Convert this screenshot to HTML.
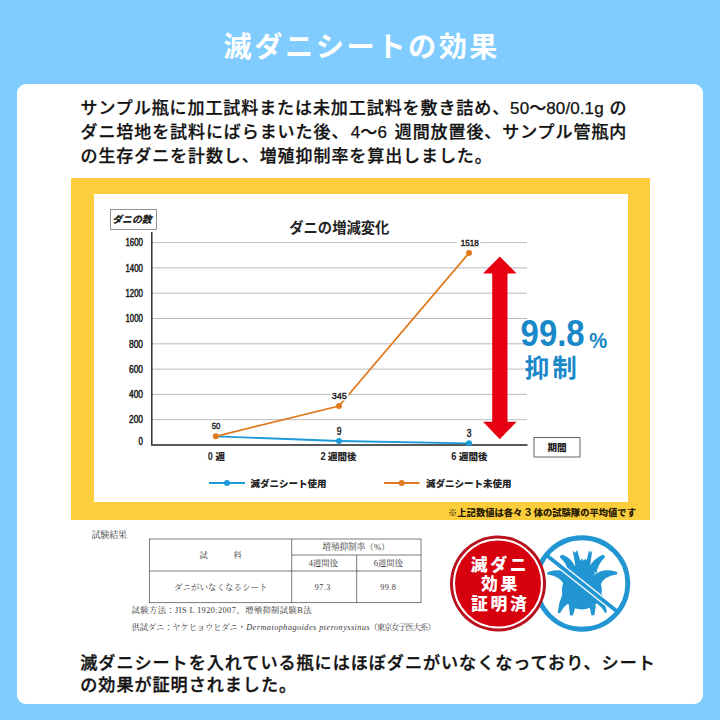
<!DOCTYPE html>
<html lang="ja">
<head>
<meta charset="utf-8">
<title>滅ダニシートの効果</title>
<style>
html,body{margin:0;padding:0;}
body{width:720px;height:720px;background:#80ccff;position:relative;overflow:hidden;
  font-family:"Liberation Sans","Noto Sans CJK JP",sans-serif;color:#111;}
.panel{position:absolute;left:17px;top:83.5px;width:686.2px;height:620px;background:#fff;border-radius:9px;}
.title{position:absolute;left:1.8px;top:25px;width:720px;text-align:center;color:#fff;
  font-size:28.2px;font-weight:700;line-height:44px;letter-spacing:2.55px;white-space:nowrap;}
.lead{position:absolute;left:80.5px;top:97.0px;font-size:17px;font-weight:500;line-height:24.2px;
  white-space:nowrap;color:#111;letter-spacing:0.92px;-webkit-text-stroke:0.25px #111;}
.foot{position:absolute;left:80.3px;top:652.8px;font-size:17.1px;font-weight:500;-webkit-text-stroke:0.35px #111;line-height:22.6px;
  white-space:nowrap;color:#111;letter-spacing:0.97px;}
.ybox{position:absolute;left:71px;top:177.8px;width:579px;height:342.2px;background:#fcce3c;}
.ywhite{position:absolute;left:94px;top:194.4px;width:534.3px;height:307.6px;background:#fff;}
.n{letter-spacing:0.1px;}
.s1{letter-spacing:1px;}
.s2{letter-spacing:3px;}
svg{position:absolute;left:0;top:0;}
</style>
</head>
<body>
<div class="panel"></div>
<div class="title">滅ダニシートの効果</div>
<div class="lead">サンプル瓶に加工試料または未加工試料を敷き詰め、<span class="n">50〜80/0.1g</span><span class="s1"> </span>の<br>ダニ培地を試料にばらまいた後、<span class="n" style="margin-left:1.5px">4〜6</span><span class="s2"> </span>週間放置後、サンプル管瓶内<br>の生存ダニを計数し、増殖抑制率を算出しました。</div>
<div class="ybox"></div>
<div class="ywhite"></div>
<svg width="720" height="720" viewBox="0 0 720 720" font-family="'Liberation Sans','Noto Sans CJK JP',sans-serif">
<!-- gridlines -->
<g stroke="#ababab" stroke-width="0.8" fill="none">
<line x1="152" y1="242.6" x2="527" y2="242.6"/>
<line x1="152" y1="267.9" x2="527" y2="267.9"/>
<line x1="152" y1="293.2" x2="527" y2="293.2"/>
<line x1="152" y1="318.5" x2="527" y2="318.5"/>
<line x1="152" y1="343.8" x2="527" y2="343.8"/>
<line x1="152" y1="369.1" x2="527" y2="369.1"/>
<line x1="152" y1="394.4" x2="527" y2="394.4"/>
<line x1="152" y1="419.7" x2="527" y2="419.7"/>
</g>
<!-- axes -->
<path d="M151.8 232 V445 H527.5" stroke="#222" stroke-width="1.4" fill="none"/>
<!-- y label box -->
<rect x="110.5" y="209.5" width="46" height="20" fill="#fff" stroke="#777" stroke-width="0.8"/>
<text x="132" y="223.2" font-size="9.9" font-weight="900" font-style="italic" text-anchor="middle" fill="#222">ダニの数</text>
<!-- y ticks -->
<g font-size="10.4" font-weight="400" fill="#222" text-anchor="end" stroke="#222" stroke-width="0.5">
<text x="143" y="246.3" textLength="17.5" lengthAdjust="spacingAndGlyphs">1600</text>
<text x="143" y="271.6" textLength="17.5" lengthAdjust="spacingAndGlyphs">1400</text>
<text x="143" y="296.9" textLength="17.5" lengthAdjust="spacingAndGlyphs">1200</text>
<text x="143" y="322.2" textLength="17.5" lengthAdjust="spacingAndGlyphs">1000</text>
<text x="143" y="347.5" textLength="14" lengthAdjust="spacingAndGlyphs">800</text>
<text x="143" y="372.8" textLength="14" lengthAdjust="spacingAndGlyphs">600</text>
<text x="143" y="398.1" textLength="14" lengthAdjust="spacingAndGlyphs">400</text>
<text x="143" y="423.4" textLength="14" lengthAdjust="spacingAndGlyphs">200</text>
<text x="143" y="445.3" textLength="4.4" lengthAdjust="spacingAndGlyphs">0</text>
</g>
<!-- chart title -->
<text x="339.3" y="232.6" font-size="14.3" font-weight="700" text-anchor="middle" fill="#222">ダニの増減変化</text>
<!-- series -->
<polyline points="215.8,436.3 339,441 469,443.3" fill="none" stroke="#1e9ad6" stroke-width="1.8"/>
<polyline points="215.8,436.3 339,406 469,253" fill="none" stroke="#e07a1f" stroke-width="1.8"/>
<g fill="#1e9ad6"><circle cx="339" cy="441" r="3"/><circle cx="469" cy="443.3" r="3"/></g>
<g fill="#e07a1f"><circle cx="215.8" cy="436.3" r="3"/><circle cx="339" cy="406" r="3"/><circle cx="469" cy="253" r="3"/></g>
<!-- data labels -->
<rect x="457" y="239.5" width="23.5" height="8" fill="#fff"/>
<rect x="330.5" y="391.5" width="18" height="9" fill="#fff"/>
<g font-size="9.9" fill="#222" text-anchor="middle" stroke="#222" stroke-width="0.45">
<text x="216" y="428.8" textLength="8.6" lengthAdjust="spacingAndGlyphs">50</text>
<text x="339.2" y="399" textLength="15" lengthAdjust="spacingAndGlyphs">345</text>
<text x="469.8" y="246.1" font-size="9.4" textLength="18" lengthAdjust="spacingAndGlyphs">1518</text>
<text x="339" y="434.6" font-size="10.4" textLength="4.7" lengthAdjust="spacingAndGlyphs">9</text>
<text x="469" y="437.4" font-size="10.4" textLength="4.7" lengthAdjust="spacingAndGlyphs">3</text>
</g>
<!-- x labels -->
<g font-size="9.5" font-weight="900" fill="#222">
<text x="207.8" y="459.9"><tspan font-size="10.6" font-weight="700" textLength="5" lengthAdjust="spacingAndGlyphs">0</tspan></text>
<text x="215.5" y="459.6">週</text>
<text x="320.4" y="459.9"><tspan font-size="10.6" font-weight="700" textLength="5.2" lengthAdjust="spacingAndGlyphs">2</tspan></text>
<text x="328" y="459.6">週間後</text>
<text x="451.2" y="459.9"><tspan font-size="10.6" font-weight="700" textLength="5.2" lengthAdjust="spacingAndGlyphs">6</tspan></text>
<text x="459" y="459.6">週間後</text>
</g>
<!-- period box -->
<rect x="534" y="437.5" width="46" height="19.5" fill="#fff" stroke="#555" stroke-width="0.9"/>
<text x="557" y="450.8" font-size="9.6" font-weight="900" text-anchor="middle" fill="#222">期間</text>
<!-- legend -->
<line x1="209" y1="483" x2="245" y2="483" stroke="#1e9ad6" stroke-width="1.8"/>
<circle cx="227" cy="483" r="3" fill="#1e9ad6"/>
<text x="250.5" y="486.7" font-size="9.5" font-weight="900" fill="#222">滅ダニシート使用</text>
<line x1="384" y1="483" x2="419.5" y2="483" stroke="#e07a1f" stroke-width="1.8"/>
<circle cx="401.7" cy="483" r="3" fill="#e07a1f"/>
<text x="426" y="486.7" font-size="9.5" font-weight="900" fill="#222">滅ダニシート未使用</text>
<!-- arrow -->
<polygon points="499.8,256.5 516.6,273.5 507.5,273.5 507.5,421.7 516.6,421.7 499.8,439.3 483,421.7 492.2,421.7 492.2,273.5 483,273.5" fill="#e60012"/>
<!-- 99.8% -->
<text x="520.6" y="345.6" font-size="37.2" font-weight="700" fill="#1a87c9" textLength="64" lengthAdjust="spacingAndGlyphs">99.8</text>
<text x="589.3" y="347.9" font-size="22.5" font-weight="700" fill="#1a87c9" textLength="18" lengthAdjust="spacingAndGlyphs">%</text>
<text x="524.8" y="377" font-size="24.5" font-weight="700" fill="#1a87c9" letter-spacing="3">抑制</text>
<!-- note -->
<text x="448" y="515.9" font-size="9.3" font-weight="900" fill="#2a1c00">※上記数値は各々 <tspan font-size="11">3</tspan> 体の試験隊の平均値です</text>
<!-- table -->
<g font-family="'Liberation Serif','Noto Serif CJK JP','Noto Serif CJK SC',serif" fill="#3a3a3a" font-size="8.8">
<text x="91.5" y="537.5" font-size="8.9">試験結果</text>
<g stroke="#444" stroke-width="0.7" fill="none">
<rect x="149.3" y="539" width="271.7" height="63.7"/>
<line x1="149.3" y1="571" x2="421" y2="571"/>
<line x1="291.7" y1="539" x2="291.7" y2="602.7"/>
<line x1="291.7" y1="555" x2="421" y2="555"/>
<line x1="356.7" y1="555" x2="356.7" y2="602.7"/>
</g>
<text x="203.7" y="557.8" text-anchor="middle" font-size="8.2">試</text>
<text x="237.7" y="557.8" text-anchor="middle" font-size="8.2">料</text>
<text x="356" y="549.8" text-anchor="middle" font-size="8.6">増殖抑制率（%）</text>
<text x="323.3" y="565.8" text-anchor="middle" font-size="8.4">4週間後</text>
<text x="388.3" y="565.8" text-anchor="middle" font-size="8.4">6週間後</text>
<text x="220.8" y="589.8" text-anchor="middle" font-size="8.5">ダニがいなくなるシート</text>
<text x="322.7" y="589.6" text-anchor="middle" font-size="8.2" letter-spacing="0.4">97.3</text>
<text x="388.3" y="589.6" text-anchor="middle" font-size="8.2" letter-spacing="0.4">99.8</text>
<text x="131.5" y="613" font-size="8.3" textLength="180" lengthAdjust="spacing">試験方法：JIS L 1920:2007、増殖抑制試験B法</text>
<text x="131.5" y="629.7" font-size="8.3" textLength="114.5" lengthAdjust="spacing">供試ダニ：ヤケヒョウヒダニ・</text>
<text x="246.2" y="629.7" font-size="8.3" font-style="italic" textLength="123.5" lengthAdjust="spacing">Dermatophagoides pteronyssinus</text>
<text x="369.5" y="629.7" font-size="8.3" textLength="66" lengthAdjust="spacing">（東京女子医大系）</text>
</g>
<!-- mite icon -->
<g>
<circle cx="582" cy="583.5" r="47" fill="#fff"/>
<g transform="translate(540,540) scale(0.125)" fill="#2196d3">
<ellipse cx="335" cy="400" rx="160" ry="156"/>
<path d="M262,86 L280,102 L298,82 L322,165 L335,148 L350,165 L362,150 L373,162 L392,84 L405,102 L418,82 L402,200 L445,275 L225,275 L282,200 Z"/>
<path d="M224,268 Q222,192 158,138 Q160,116 188,120 Q260,150 282,222 Z"/>
<path d="M190,355 Q160,290 62,276 Q48,264 68,254 Q185,222 240,280 Z"/>
<path d="M180,430 Q150,500 142,578 Q148,592 162,582 Q192,525 240,500 Z"/>
<path d="M230,515 L240,604 L264,602 L282,540 Z"/>
<path d="M398,540 L412,604 L435,602 L448,515 Z"/>
<path d="M438,500 Q490,525 518,580 Q532,590 534,572 Q522,500 494,430 Z"/>
<path d="M392,222 Q425,150 498,120 Q524,118 518,140 Q462,192 452,268 Z"/>
<path d="M435,280 Q500,222 610,254 Q630,266 612,276 Q512,290 486,355 Z"/>
</g>
<line x1="546.2" y1="555" x2="617.8" y2="612" stroke="#fff" stroke-width="6.4"/>
<line x1="546.2" y1="555" x2="617.8" y2="612" stroke="#2196d3" stroke-width="3.8"/>
<circle cx="582" cy="583.5" r="45.75" fill="none" stroke="#2196d3" stroke-width="4.8"/>
</g>
<!-- stamp -->
<g>
<circle cx="498" cy="583.5" r="48" fill="#b8101c"/>
<circle cx="498" cy="583.5" r="44" fill="#d7000f" stroke="#fff" stroke-width="2"/>
<g fill="#fff" font-weight="900" font-size="16.8" text-anchor="middle" letter-spacing="2.7">
<text x="500" y="570.8">滅ダニ</text>
<text x="500.5" y="590.3">効果</text>
<text x="500.2" y="609.8">証明済</text>
</g>
</g>
</svg>
<div class="foot">滅ダニシートを入れている瓶にはほぼダニがいなくなっており、シート<br>の効果が証明されました。</div>
</body>
</html>
